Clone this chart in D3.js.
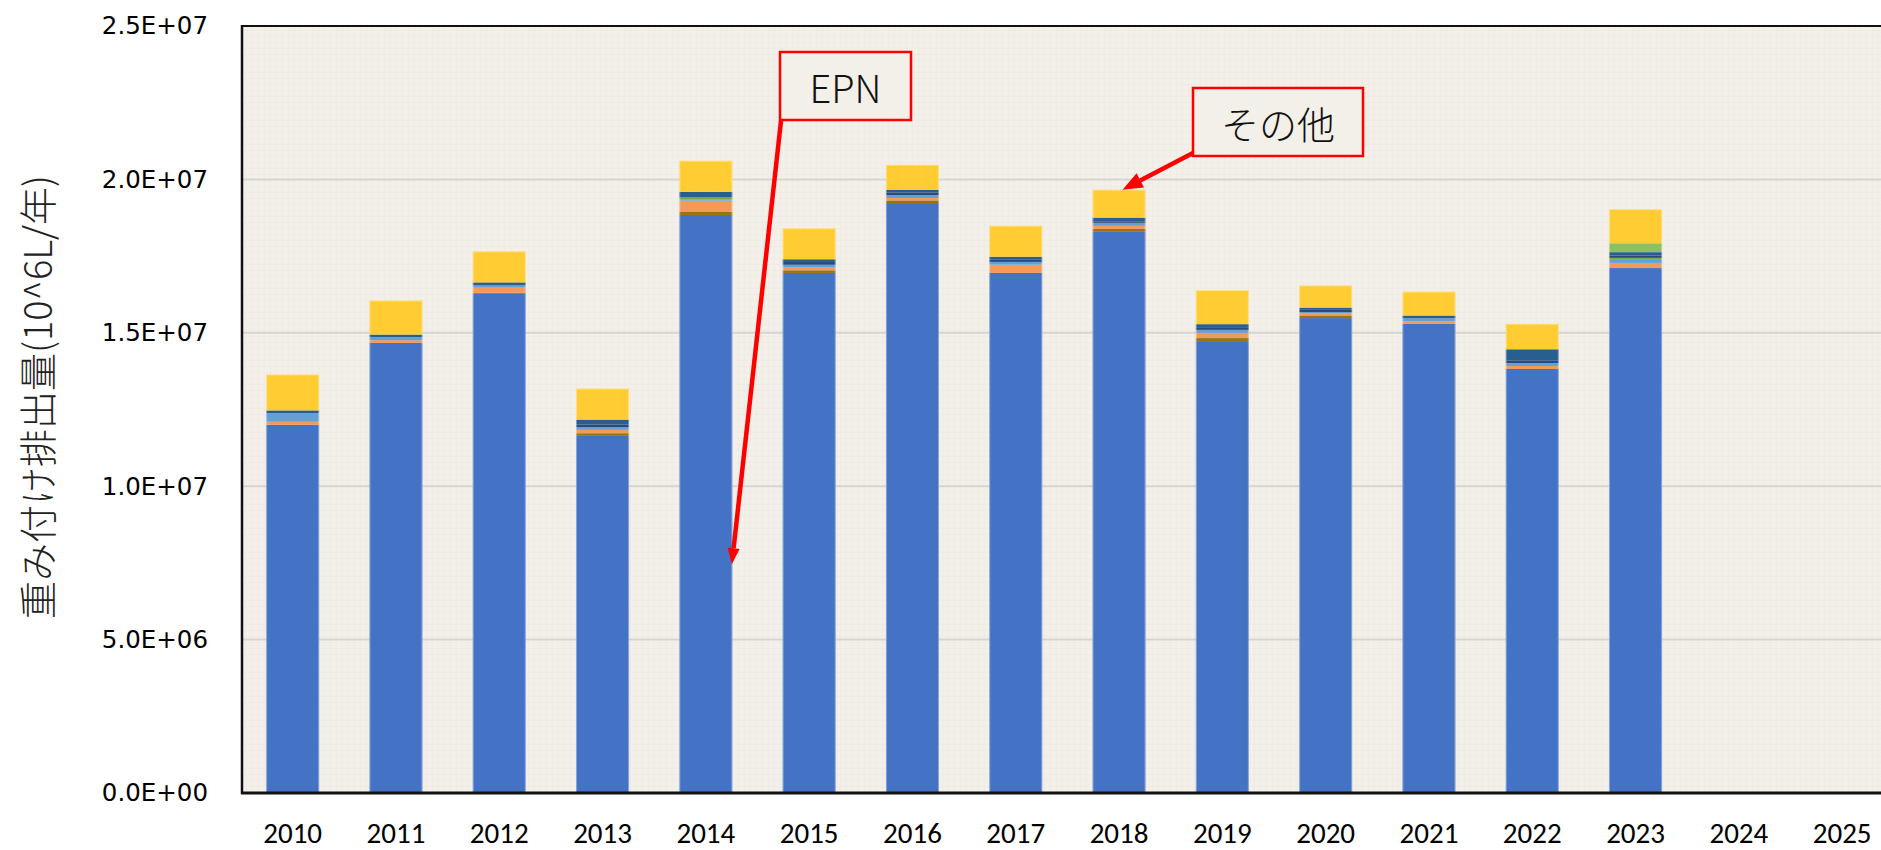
<!DOCTYPE html>
<html>
<head>
<meta charset="utf-8">
<script src="https://cdn.jsdelivr.net/npm/d3@7"></script>
<style>
  html, body { margin: 0; padding: 0; background: #ffffff; }
  svg { display: block; }
</style>
</head>
<body>
<svg id="chart" width="1881" height="850"></svg>
<script>
// ---------- data ----------
const years = ["2010","2011","2012","2013","2014","2015","2016","2017","2018","2019","2020","2021","2022","2023","2024","2025"];
const seriesKeys = ["EPN","成分B","成分C","成分D","成分E","成分F","成分G","成分H","その他"];
const seriesColors = ["#4472C4","#9A7410","#F19A5C","#62A0D8","#70AD47","#2B4A7C","#285F90","#8DC063","#FFCC33"];

const epn        = [1.200e7, 1.467e7, 1.627e7, 1.164e7, 1.884e7, 1.695e7, 1.923e7, 1.695e7, 1.829e7, 1.473e7, 1.548e7, 1.529e7, 1.382e7, 1.711e7, 0, 0];
const compB      = [0, 0, 3.0e4, 8.7e4, 9.8e4, 8.7e4, 8.7e4, 0, 9.8e4, 9.8e4, 8.7e4, 0, 0, 0, 0, 0];
const compC      = [1.0e5, 8.7e4, 1.7e5, 1.1e5, 3.7e5, 9.0e4, 7.5e4, 2.7e5, 9.8e4, 1.7e5, 7.5e4, 8.7e4, 9.8e4, 1.7e5, 0, 0];
const compD      = [2.8e5, 9.8e4, 7.5e4, 8.7e4, 3.0e4, 9.0e4, 9.8e4, 9.0e4, 9.8e4, 9.8e4, 3.0e4, 9.8e4, 9.8e4, 9.8e4, 0, 0];
const compE      = [0, 0, 0, 0, 7.5e4, 0, 0, 0, 0, 0, 0, 0, 0, 6.5e4, 0, 0];
const compF      = [0, 0, 0, 8.7e4, 0, 9.0e4, 8.7e4, 7.0e4, 5.0e4, 8.7e4, 7.5e4, 0, 8.7e4, 7.5e4, 0, 0];
const compG      = [9.0e4, 8.7e4, 9.8e4, 1.6e5, 1.85e5, 9.0e4, 8.7e4, 1.0e5, 1.2e5, 9.8e4, 7.5e4, 8.7e4, 3.6e5, 1.1e5, 0, 0];
const compH      = [0, 0, 0, 0, 0, 0, 0, 0, 0, 0, 0, 0, 0, 2.9e5, 0, 0];
const others     = [1.17e6, 1.11e6, 1.01e6, 1.01e6, 1.01e6, 1.01e6, 8.1e5, 1.01e6, 9.1e5, 1.11e6, 7.2e5, 7.8e5, 8.3e5, 1.11e6, 0, 0];

const yTicks = [0, 5e6, 1e7, 1.5e7, 2e7, 2.5e7];
const yTickLabels = ["0.0E+00","5.0E+06","1.0E+07","1.5E+07","2.0E+07","2.5E+07"];
const yTitle = "重み付け排出量(10^6L/年)";

// ---------- build table ----------
const seriesArrays = [epn, compB, compC, compD, compE, compF, compG, compH, others];
const table = years.map((yr, i) => {
  const row = { year: yr };
  seriesKeys.forEach((k, j) => { row[k] = seriesArrays[j][i]; });
  return row;
});
const stacked = d3.stack().keys(seriesKeys)(table);

// ---------- layout ----------
const svg = d3.select("#chart");
const W = 1881, H = 850;
const plot = { left: 242, top: 26, bottom: 793 };

const x = d3.scaleBand().domain(years).range([241, 241 + 16 * 103.3]).paddingInner(0.487).paddingOuter(0.2435);
const y = d3.scaleLinear().domain([0, 2.5e7]).range([plot.bottom, plot.top]);

// plot background
svg.append("rect")
  .attr("x", plot.left).attr("y", plot.top)
  .attr("width", W - plot.left + 10).attr("height", plot.bottom - plot.top)
  .attr("fill", "#F3F0E9");

// subtle texture
const defs = svg.append("defs");
const pat = defs.append("pattern").attr("id", "tex").attr("width", 6).attr("height", 6).attr("patternUnits", "userSpaceOnUse");
pat.append("rect").attr("width", 6).attr("height", 6).attr("fill", "#F3F0E9");
pat.append("path").attr("d", "M0 0.5H6 M0.5 0V6").attr("stroke", "#EBE7DE").attr("stroke-width", 1);
svg.append("rect")
  .attr("x", plot.left).attr("y", plot.top)
  .attr("width", W - plot.left + 10).attr("height", plot.bottom - plot.top)
  .attr("fill", "url(#tex)").attr("opacity", 0.4);

// gridlines
svg.append("g")
  .selectAll("line")
  .data(yTicks.filter(d => d > 0 && d < 2.5e7))
  .join("line")
  .attr("x1", plot.left).attr("x2", W + 10)
  .attr("y1", d => y(d)).attr("y2", d => y(d))
  .attr("stroke", "#D6D5D2").attr("stroke-width", 2);

// bars
const gBars = svg.append("g");
stacked.forEach((layer, j) => {
  gBars.append("g")
    .attr("fill", seriesColors[j])
    .selectAll("rect")
    .data(layer.filter(d => d[1] - d[0] > 0))
    .join("rect")
    .attr("x", d => x(d.data.year))
    .attr("width", x.bandwidth())
    .attr("y", d => y(d[1]))
    .attr("height", d => y(d[0]) - y(d[1]));
});
// bar outlines
const totals = table.map(r => seriesKeys.reduce((s, k) => s + r[k], 0));
gBars.append("g")
  .selectAll("rect")
  .data(table.filter((r, i) => totals[i] > 0))
  .join("rect")
  .attr("x", d => x(d.year) + 0.5)
  .attr("width", x.bandwidth() - 1)
  .attr("y", d => y(totals[years.indexOf(d.year)]) + 0.5)
  .attr("height", d => y(0) - y(totals[years.indexOf(d.year)]) - 1)
  .attr("fill", "none")
  .attr("stroke", "rgba(255,255,255,0.35)")
  .attr("stroke-width", 1);

// frame
svg.append("line").attr("x1", plot.left).attr("x2", W + 10).attr("y1", plot.top).attr("y2", plot.top)
  .attr("stroke", "#111").attr("stroke-width", 2);
svg.append("line").attr("x1", plot.left).attr("x2", plot.left).attr("y1", plot.top - 1).attr("y2", plot.bottom + 1)
  .attr("stroke", "#111").attr("stroke-width", 2.5);
svg.append("line").attr("x1", plot.left - 1).attr("x2", W + 10).attr("y1", plot.bottom).attr("y2", plot.bottom)
  .attr("stroke", "#111").attr("stroke-width", 3);

// y axis labels
const yAxis = svg.append("g")
  .attr("transform", `translate(${plot.left},0)`)
  .call(d3.axisLeft(y).tickValues(yTicks).tickFormat((d, i) => yTickLabels[i]).tickSize(0).tickPadding(34));
yAxis.select(".domain").remove();
yAxis.selectAll("text")
  .attr("font-family", "'DejaVu Sans', sans-serif")
  .attr("font-size", 24.5)
  .attr("fill", "#000");

// x axis labels
const xAxis = svg.append("g")
  .attr("transform", `translate(0,${plot.bottom})`)
  .call(d3.axisBottom(x).tickSize(0).tickPadding(0));
xAxis.select(".domain").remove();
xAxis.selectAll("text")
  .attr("dy", null)
  .attr("y", 50)
  .attr("font-family", "Carlito, 'Liberation Sans', sans-serif")
  .attr("font-size", 29)
  .attr("fill", "#000");

// y title
svg.append("text")
  .attr("transform", "translate(35,397) rotate(-90)")
  .attr("text-anchor", "middle")
  .attr("dominant-baseline", "central")
  .attr("font-family", "'Noto Sans CJK JP', sans-serif")
  .attr("font-weight", 300)
  .attr("font-size", 38)
  .attr("fill", "#222")
  .text(yTitle);

// ---------- annotations ----------
function arrow(x1, y1, x2, y2, headLen, headW, sw) {
  const ang = Math.atan2(y2 - y1, x2 - x1);
  const bx = x2 - headLen * Math.cos(ang), by = y2 - headLen * Math.sin(ang);
  svg.append("line").attr("x1", x1).attr("y1", y1).attr("x2", bx).attr("y2", by)
    .attr("stroke", "#FF0000").attr("stroke-width", sw);
  const px = -Math.sin(ang) * headW / 2, py = Math.cos(ang) * headW / 2;
  svg.append("path")
    .attr("d", `M${x2},${y2}L${bx + px},${by + py}L${bx - px},${by - py}Z`)
    .attr("fill", "#FF0000");
}
function box(x0, y0, w, h, label) {
  svg.append("rect").attr("x", x0).attr("y", y0).attr("width", w).attr("height", h)
    .attr("fill", "#F3F0E9").attr("stroke", "#FF0000").attr("stroke-width", 2.5);
  svg.append("text").attr("x", x0 + w / 2).attr("y", y0 + h / 2)
    .attr("text-anchor", "middle").attr("dominant-baseline", "central")
    .attr("font-family", "'Noto Sans CJK JP', sans-serif").attr("font-weight", 300)
    .attr("font-size", 38).attr("fill", "#111").text(label);
}
// EPN
arrow(781, 121, x("2014") + x.bandwidth() / 2 + 26, y(7.46e6), 16, 12, 4.5);
box(780, 52, 131, 68, "EPN");
// その他
const i2018 = years.indexOf("2018");
arrow(1193, 153, x("2018") + 30, y(totals[i2018]), 20, 16, 4.5);
box(1193, 88, 170, 68, "その他");
</script>
</body>
</html>
